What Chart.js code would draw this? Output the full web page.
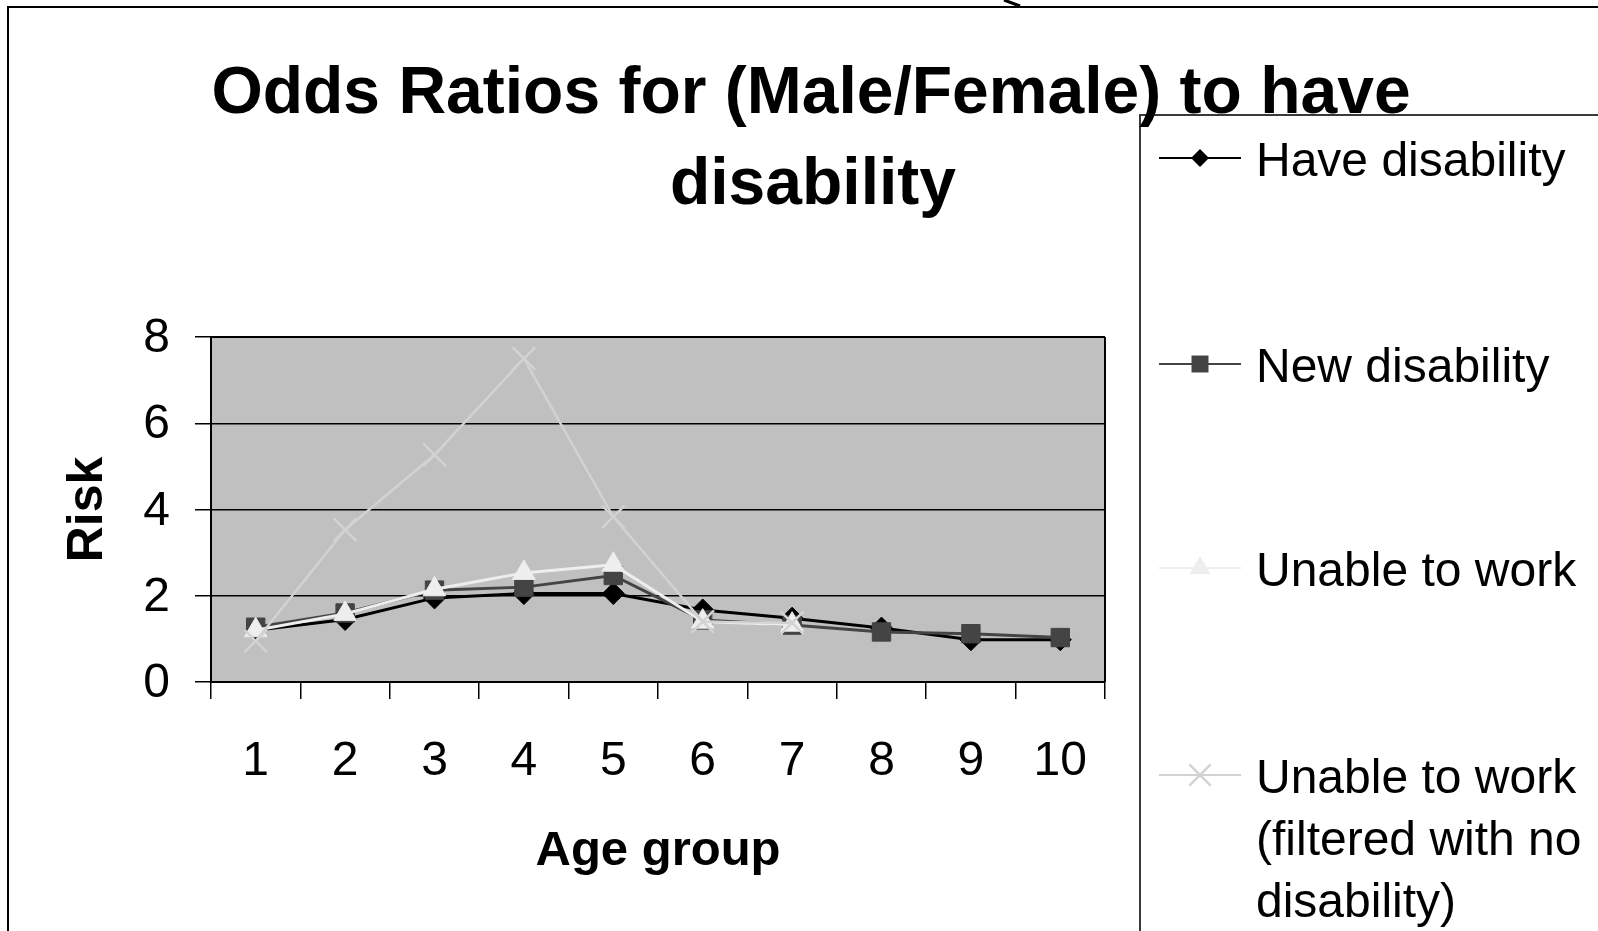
<!DOCTYPE html>
<html>
<head>
<meta charset="utf-8">
<script src="https://cdn.jsdelivr.net/npm/chart.js@4/dist/chart.umd.min.js"></script>
<style>
html, body { margin: 0; padding: 0; background: #ffffff; }
#wrap { width: 1598px; height: 931px; position: relative; }
</style>
</head>
<body>
<div id="wrap"><canvas id="c" width="1598" height="931"></canvas></div>
<script>
// ---- Data ----
const categories = ['1', '2', '3', '4', '5', '6', '7', '8', '9', '10'];
const haveDisability = [1.2, 1.45, 1.95, 2.05, 2.05, 1.67, 1.48, 1.25, 0.98, 0.98];
const newDisability  = [1.27, 1.6, 2.13, 2.2, 2.47, 1.44, 1.32, 1.16, 1.12, 1.03];
const unableToWork   = [1.2, 1.58, 2.15, 2.53, 2.72, 1.4, 1.33, null, null, null];
const unableFiltered = [0.95, 3.53, 5.27, 7.5, 3.83, 1.4, 1.37, null, null, null];
const seriesLabels = [
  ['Have disability'],
  ['New disability'],
  ['Unable to work'],
  ['Unable to work', '(filtered with no', 'disability)']
];
const titleLines = ['Odds Ratios for (Male/Female) to have', 'disability'];
const xAxisTitle = 'Age group';
const yAxisTitle = 'Risk';
const yMin = 0, yMax = 8, yStep = 2;

const FONT = "'Liberation Sans', Arial, Helvetica, sans-serif";

function drawMarker(ctx, style, x, y, r, color, bw) {
  ctx.save();
  ctx.fillStyle = color;
  ctx.strokeStyle = color;
  ctx.lineWidth = bw || 1;
  ctx.beginPath();
  if (style === 'rectRot') {
    ctx.moveTo(x, y - r); ctx.lineTo(x + r, y); ctx.lineTo(x, y + r); ctx.lineTo(x - r, y); ctx.closePath();
    ctx.fill();
  } else if (style === 'rect') {
    const s = r * Math.SQRT1_2;
    ctx.rect(x - s, y - s, 2 * s, 2 * s);
    ctx.fill();
  } else if (style === 'triangle') {
    ctx.moveTo(x, y - r);
    ctx.lineTo(x + r * Math.cos(Math.PI / 6), y + r * 0.5);
    ctx.lineTo(x - r * Math.cos(Math.PI / 6), y + r * 0.5);
    ctx.closePath();
    ctx.fill();
  } else if (style === 'crossRot') {
    const s = r * Math.SQRT1_2;
    ctx.moveTo(x - s, y - s); ctx.lineTo(x + s, y + s);
    ctx.moveTo(x - s, y + s); ctx.lineTo(x + s, y - s);
    ctx.stroke();
  }
  ctx.restore();
}

const framePlugin = {
  id: 'framePlugin',
  beforeDraw(chart) {
    const ctx = chart.ctx, a = chart.chartArea;
    ctx.save();
    ctx.fillStyle = '#ffffff';
    ctx.fillRect(0, 0, chart.width, chart.height);
    // outer frame
    ctx.strokeStyle = '#000000';
    ctx.lineWidth = 2;
    ctx.beginPath();
    ctx.moveTo(8, chart.height + 5);
    ctx.lineTo(8, 7);
    ctx.lineTo(chart.width + 5, 7);
    ctx.stroke();
    // small stroke crossing the top edge
    ctx.lineWidth = 3;
    ctx.beginPath();
    ctx.moveTo(1004, 0);
    ctx.lineTo(1020, 6);
    ctx.stroke();
    // plot background
    ctx.fillStyle = '#c0c0c0';
    ctx.fillRect(a.left, a.top, a.right - a.left, a.bottom - a.top);
    ctx.restore();
  },
  beforeDatasetsDraw(chart) {
    const ctx = chart.ctx, a = chart.chartArea;
    ctx.save();
    ctx.strokeStyle = '#000000';
    ctx.lineWidth = 2;
    ctx.beginPath();
    ctx.moveTo(a.right, a.top);
    ctx.lineTo(a.right, a.bottom);
    ctx.moveTo(a.left, a.top);
    ctx.lineTo(a.right, a.top);
    ctx.stroke();
    ctx.restore();
  },
  afterDraw(chart) {
    const ctx = chart.ctx;
    ctx.save();
    // legend box
    ctx.fillStyle = '#ffffff';
    ctx.fillRect(1140, 115, chart.width - 1140 + 5, chart.height);
    ctx.strokeStyle = '#3a3a3a';
    ctx.lineWidth = 2;
    ctx.beginPath();
    ctx.moveTo(1140, chart.height + 5);
    ctx.lineTo(1140, 115);
    ctx.lineTo(chart.width + 5, 115);
    ctx.stroke();
    // legend entries
    const centers = [158, 364, 568, 775];
    ctx.font = '48px ' + FONT;
    ctx.textAlign = 'left';
    ctx.textBaseline = 'alphabetic';
    chart.data.datasets.forEach((ds, i) => {
      const cy = centers[i];
      ctx.strokeStyle = ds.borderColor;
      ctx.lineWidth = 2;
      ctx.beginPath();
      ctx.moveTo(1159, cy);
      ctx.lineTo(1241, cy);
      ctx.stroke();
      drawMarker(ctx, ds.pointStyle, 1200, cy, ds.legendRadius, ds.pointBackgroundColor, ds.pointBorderWidth);
      ctx.fillStyle = '#000000';
      seriesLabels[i].forEach((line, j) => {
        ctx.fillText(line, 1256, cy + 18 + j * 62);
      });
    });
    // title
    ctx.fillStyle = '#000000';
    ctx.font = 'bold 66px ' + FONT;
    ctx.textAlign = 'center';
    ctx.fillText(titleLines[0], 811, 113);
    ctx.fillText(titleLines[1], 813, 204);
    ctx.restore();
  }
};

new Chart(document.getElementById('c'), {
  type: 'line',
  data: {
    labels: categories,
    datasets: [
      {
        label: seriesLabels[0].join(' '),
        data: haveDisability,
        borderColor: '#000000',
        backgroundColor: '#000000',
        borderWidth: 3,
        pointStyle: 'rectRot',
        pointRadius: 11,
        legendRadius: 9,
        pointBorderWidth: 1,
        pointBackgroundColor: '#000000',
        pointBorderColor: '#000000',
        order: 3
      },
      {
        label: seriesLabels[1].join(' '),
        data: newDisability,
        borderColor: '#444444',
        backgroundColor: '#444444',
        borderWidth: 3,
        pointStyle: 'rect',
        pointRadius: 13,
        legendRadius: 12,
        pointBorderWidth: 1,
        pointBackgroundColor: '#444444',
        pointBorderColor: '#444444',
        order: 2
      },
      {
        label: seriesLabels[2].join(' '),
        data: unableToWork,
        borderColor: '#eeeeee',
        backgroundColor: '#eeeeee',
        borderWidth: 3,
        pointStyle: 'triangle',
        pointRadius: 13,
        legendRadius: 12,
        pointBorderWidth: 1,
        pointBackgroundColor: '#eeeeee',
        pointBorderColor: '#eeeeee',
        order: 1
      },
      {
        label: seriesLabels[3].join(' '),
        data: unableFiltered,
        borderColor: '#d2d2d2',
        backgroundColor: '#d2d2d2',
        borderWidth: 2.5,
        pointStyle: 'crossRot',
        pointRadius: 16,
        legendRadius: 15,
        pointBorderWidth: 2.5,
        pointBackgroundColor: '#d2d2d2',
        pointBorderColor: '#d2d2d2',
        order: 0
      }
    ]
  },
  options: {
    responsive: false,
    animation: false,
    devicePixelRatio: 1,
    layout: { padding: { top: 337, right: 493, left: 0, bottom: 0 } },
    plugins: {
      legend: { display: false },
      title: { display: false },
      tooltip: { enabled: false }
    },
    elements: { line: { tension: 0 } },
    scales: {
      x: {
        type: 'category',
        offset: true,
        grid: { offset: true, drawOnChartArea: false, color: '#000000', lineWidth: 1.5, tickLength: 17 },
        border: { color: '#000000', width: 2 },
        ticks: { color: '#000000', font: { family: FONT, size: 48, lineHeight: 1 }, padding: 39, maxRotation: 0, autoSkip: false },
        title: { display: true, text: xAxisTitle, color: '#000000', font: { family: FONT, size: 49, weight: 'bold', lineHeight: 1 }, padding: { top: 0, bottom: 55 } },
        afterFit(scale) { scale.height = 249; }
      },
      y: {
        min: yMin,
        max: yMax,
        grid: { color: '#000000', lineWidth: 1.5, tickLength: 16 },
        border: { color: '#000000', width: 2 },
        ticks: { stepSize: yStep, color: '#000000', font: { family: FONT, size: 48, lineHeight: 1 }, padding: 25, labelOffset: 2 },
        title: { display: true, text: yAxisTitle, color: '#000000', font: { family: FONT, size: 50, weight: 'bold', lineHeight: 1 }, padding: { top: 63, bottom: 0 } },
        afterFit(scale) { scale.width = 211; }
      }
    }
  },
  plugins: [framePlugin]
});
</script>
</body>
</html>
